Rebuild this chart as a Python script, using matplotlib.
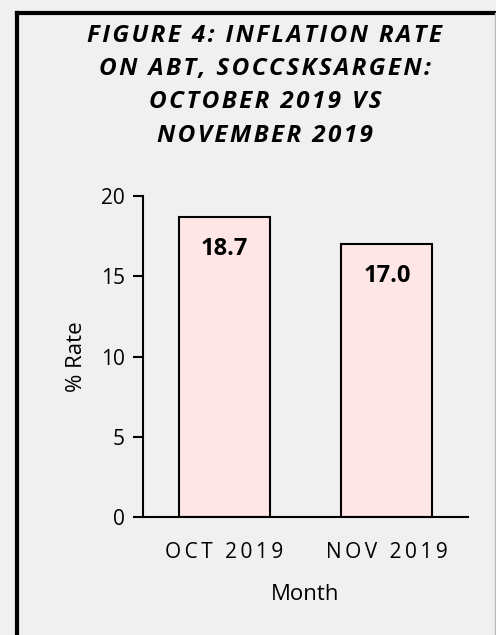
import matplotlib.pyplot as plt
from matplotlib.lines import Line2D

months = ["OCT 2019", "NOV 2019"]
rates = [18.7, 17.0]
labels = ["18.7", "17.0"]
y_ticks = [0, 5, 10, 15, 20]
title_lines = ["FIGURE 4: INFLATION RATE", "ON ABT, SOCCSKSARGEN:",
               "OCTOBER 2019 VS", "NOVEMBER 2019"]

FONT = ["Open Sans", "DejaVu Sans"]


def spaced(s, sp="\u2009"):
    # fake letter spacing with narrow spaces
    return sp.join(s)


bg = "#f0f0f0"
fig = plt.figure(figsize=(4.96, 6.35), dpi=100, facecolor=bg)
ax = fig.add_axes([0.288, 0.186, 0.656, 0.505], facecolor=bg)

x = list(range(len(months)))
ax.bar(x, rates, width=0.56, color="#ffe6e6", edgecolor="black", linewidth=1.5)
for xi, v, lab in zip(x, rates, labels):
    ax.annotate(lab, (xi, v), xytext=(0, -23), textcoords="offset points",
                ha="center", va="center", fontsize=17, fontweight="bold",
                family=FONT)

ax.set_xlim(-0.5, 1.5)
ax.set_ylim(0, 20)
ax.set_yticks(y_ticks)
ax.set_xticks(x)
ax.set_xticklabels([spaced(m) for m in months], family=FONT, fontsize=15)
ax.tick_params(axis="x", length=0, pad=18)
ax.tick_params(axis="y", length=7, width=1.5, pad=6, labelsize=15)
for t in ax.get_yticklabels():
    t.set_family(FONT)
for s in ["top", "right"]:
    ax.spines[s].set_visible(False)
ax.spines["left"].set_linewidth(1.5)
ax.spines["bottom"].set_linewidth(1.5)
ax.set_ylabel("% Rate", family=FONT, fontsize=16, labelpad=10)
ax.set_xlabel("Month", family=FONT, fontsize=16, labelpad=15)

fig.text(0.534, 0.865, "\n".join(spaced(t, "\u200a") for t in title_lines),
         ha="center", va="center", fontsize=17.5, fontweight="bold",
         fontstyle="italic", family=FONT, linespacing=1.52)

# frame around the chart (cropped at right and bottom)
fig.add_artist(Line2D([0.035, 0.035], [0.0, 0.979], color="black", lw=3))
fig.add_artist(Line2D([0.035, 1.0], [0.979, 0.979], color="black", lw=3))
fig.add_artist(Line2D([0.997, 0.997], [0.0, 0.979], color="#bbbbbb", lw=1))

fig.savefig("out.png", dpi=100, facecolor=bg)
